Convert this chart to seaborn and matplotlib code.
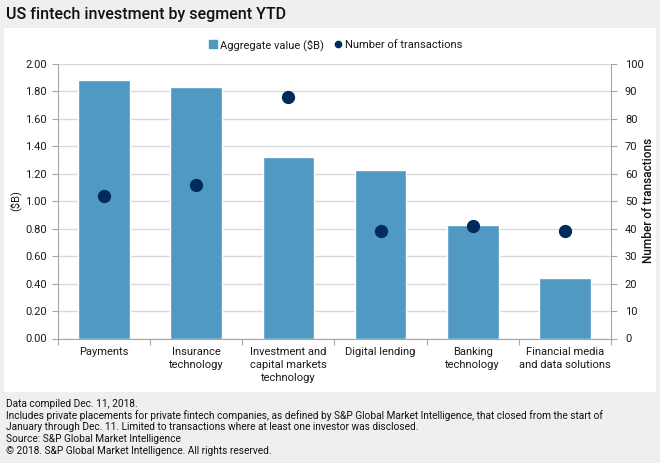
import matplotlib
matplotlib.use("Agg")
import matplotlib.pyplot as plt
from matplotlib.patches import Rectangle
from matplotlib.lines import Line2D
from matplotlib.ticker import FixedLocator
from matplotlib import font_manager
import seaborn as sns
import pandas as pd

categories = ["Payments", "Insurance\ntechnology", "Investment and\ncapital markets\ntechnology",
              "Digital lending", "Banking\ntechnology", "Financial media\nand data solutions"]
aggregate_value = [1.88, 1.83, 1.32, 1.23, 0.83, 0.44]
num_transactions = [52, 56, 88, 39, 41, 39]
left_ticks = [0.0, 0.2, 0.4, 0.6, 0.8, 1.0, 1.2, 1.4, 1.6, 1.8, 2.0]
right_ticks = [0, 10, 20, 30, 40, 50, 60, 70, 80, 90, 100]

footnotes = [
    "Data compiled Dec. 11, 2018.",
    "Includes private placements for private fintech companies, as defined by S&P Global Market Intelligence, that closed from the start of",
    "January through Dec. 11. Limited to transactions where at least one investor was disclosed.",
    "Source: S&P Global Market Intelligence",
    "\u00a9 2018. S&P Global Market Intelligence. All rights reserved.",
]

sns.set_theme(style="white")
names = {f.name for f in font_manager.fontManager.ttflist}
fam = "Roboto" if "Roboto" in names else "Liberation Sans"
plt.rcParams["font.family"] = [fam, "DejaVu Sans"]

BAR = "#4f99c3"
DOT = "#002b5c"
BG = "#efefef"
GRID = "#d9d9d9"
AX = "#a6a6a6"
TXT = "#1a1a1a"

df = pd.DataFrame({"segment": categories, "value": aggregate_value, "count": num_transactions})

fig = plt.figure(figsize=(6.6, 4.63), dpi=100)
fig.patch.set_facecolor(BG)
fig.patches.append(Rectangle((4 / 660, 1 - 392 / 463), 652 / 660, 364 / 463,
                             transform=fig.transFigure, facecolor="white", edgecolor="none",
                             zorder=-5))

ax = fig.add_axes([58 / 660, 1 - 338.5 / 463, 553 / 660, 274.5 / 463])
ax.set_facecolor("none")
sns.barplot(data=df, x="segment", y="value", order=categories, color=BAR, width=0.56,
            saturation=1, ax=ax, zorder=2)
ax2 = ax.twinx()
sns.pointplot(data=df, x="segment", y="count", order=categories, color=DOT, linestyle="none",
              markers="o", markersize=7.5, errorbar=None, ax=ax2, zorder=3)

ax.set_ylim(0, 2.0)
ax2.set_ylim(0, 100)
ax.set_xlim(-0.5, 5.5)
ax.set_yticks(left_ticks)
ax.set_yticklabels([f"{v:.2f}" for v in left_ticks])
ax2.set_yticks(right_ticks)
ax2.set_yticklabels([str(v) for v in right_ticks])
ax.yaxis.grid(True, color=GRID, linewidth=1, zorder=0)
ax.set_axisbelow(True)

ax.set_xticks(range(len(categories)))
ax.set_xticklabels(categories, fontsize=8, color=TXT, linespacing=1.4)
ax.tick_params(axis="x", which="major", length=0, pad=6)
ax.xaxis.set_minor_locator(FixedLocator([i + 0.5 for i in range(-1, 6)]))
ax.tick_params(axis="x", which="minor", length=4, color=AX, width=0.8, direction="out", bottom=True)
ax.tick_params(axis="y", length=4, color=AX, width=0.8, direction="out", left=True,
               labelsize=8, labelcolor=TXT, pad=4)
ax2.tick_params(axis="y", length=4, color=AX, width=0.8, direction="out", right=True,
                labelsize=8, labelcolor=TXT, pad=6)

for a in (ax, ax2):
    for s in a.spines.values():
        s.set_visible(False)
ax.spines["left"].set_visible(True)
ax.spines["bottom"].set_visible(True)
ax2.spines["right"].set_visible(True)
for s in (ax.spines["left"], ax.spines["bottom"], ax2.spines["right"]):
    s.set_color(AX)
    s.set_linewidth(0.8)

ax.set_xlabel("")
ax.set_ylabel("")
ax2.set_ylabel("")
fig.text(15 / 660, 1 - 201 / 463, "($B)", rotation=90, fontsize=8, color=TXT,
         ha="center", va="center")
fig.text(648 / 660, 1 - 200 / 463, "Number of transactions", rotation=90, fontsize=8.5,
         color="#111111", fontweight="medium", ha="center", va="center")

handles = [Line2D([], [], marker="s", linestyle="none", color=BAR, markersize=6),
           Line2D([], [], marker="o", linestyle="none", color=DOT, markersize=4.5)]
fig.legend(handles, ["Aggregate value ($B)", "Number of transactions"], loc="center",
           bbox_to_anchor=(335 / 660, 1 - 45 / 463), ncol=2, frameon=False, fontsize=8,
           handletextpad=0.1, columnspacing=0.8, handlelength=1.0, labelcolor=TXT)

fig.text(6 / 660, 1 - 14 / 463, "US fintech investment by segment YTD", fontsize=11.5,
         fontweight="medium", color="#111111", va="center", ha="left")

ys = [404, 416, 427.5, 439, 450.5]
for t, y in zip(footnotes, ys):
    fig.text(6 / 660, 1 - y / 463, t, fontsize=7.3, color="#111111", va="center", ha="left")

fig.savefig("out.png", dpi=100, facecolor=BG)
